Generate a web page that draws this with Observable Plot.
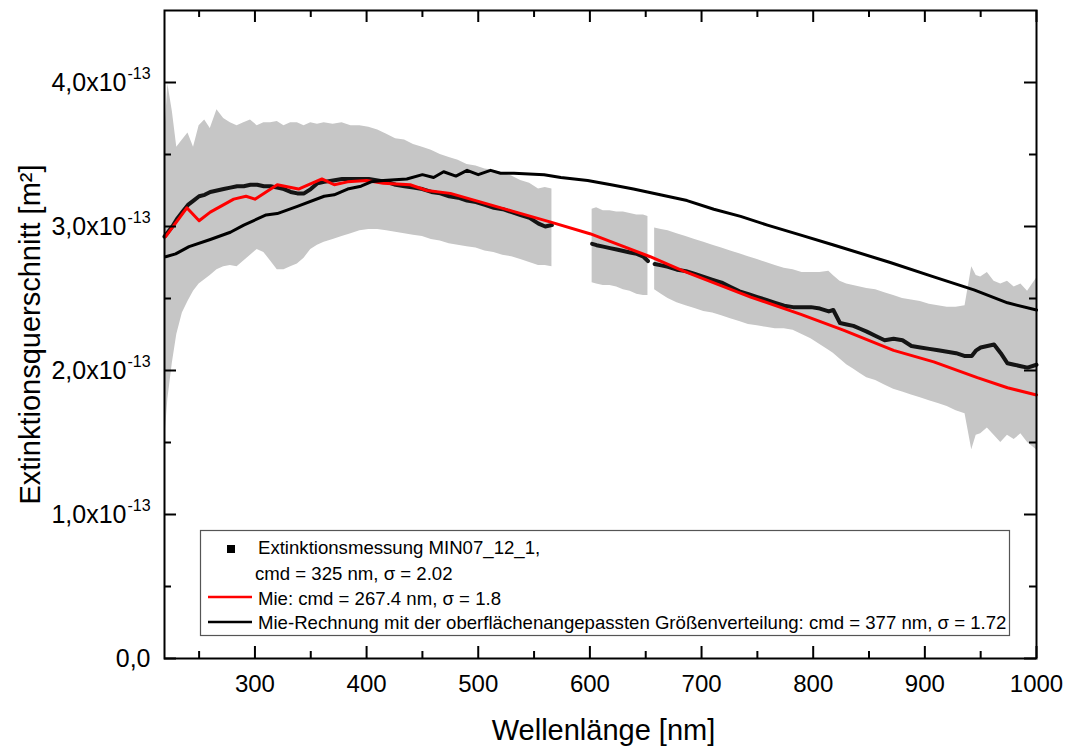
<!DOCTYPE html>
<html>
<head>
<meta charset="utf-8">
<script src="https://cdn.jsdelivr.net/npm/d3@7"></script>
<script src="https://cdn.jsdelivr.net/npm/@observablehq/plot@0.6"></script>
<style>
  html, body { margin: 0; padding: 0; background: #fff; }
  #chart svg { font-family: "Liberation Sans", Arial, sans-serif; display: block; }
</style>
</head>
<body>
<div id="chart"></div>
<script>
// ---- Data (y values in units of 1e-13 m²) ----
const xTitle = "Wellenlänge [nm]";
const yTitle = "Extinktionsquerschnitt [m²]";
const xMajorTicks = [300, 400, 500, 600, 700, 800, 900, 1000];
const xMinorTicks = [250, 350, 450, 550, 650, 750, 850, 950];
const yMajorTicks = [0, 1, 2, 3, 4];
const yMinorTicks = [0.5, 1.5, 2.5, 3.5];
const yTickLabels = ["0,0", "1,0x10", "2,0x10", "3,0x10", "4,0x10"];
const yTickExponents = ["", "-13", "-13", "-13", "-13"];

// Measurement, segment 1
const seg1Wl  = [219,222,226,230,235,240,245,250,255,260,266,272,278,284,290,296,302,308,314,320,326,332,338,344,350,356,362,370,378,386,394,402,410,418,426,434,442,450,458,466,474,482,490,498,506,514,522,530,538,546,554,560,566];
const seg1Val = [2.93,2.96,3.00,3.05,3.10,3.15,3.18,3.21,3.22,3.24,3.25,3.26,3.27,3.28,3.28,3.29,3.29,3.28,3.28,3.27,3.26,3.24,3.23,3.23,3.26,3.30,3.31,3.32,3.33,3.33,3.33,3.33,3.32,3.31,3.29,3.28,3.27,3.26,3.24,3.23,3.21,3.20,3.18,3.17,3.15,3.13,3.12,3.10,3.08,3.06,3.02,3.00,3.01];
const seg1Hi  = [3.60,3.99,3.80,3.55,3.60,3.65,3.55,3.70,3.74,3.68,3.81,3.75,3.72,3.70,3.72,3.74,3.70,3.72,3.72,3.73,3.70,3.72,3.72,3.70,3.72,3.71,3.72,3.71,3.72,3.70,3.70,3.69,3.67,3.64,3.61,3.60,3.57,3.55,3.53,3.50,3.48,3.46,3.43,3.42,3.40,3.39,3.37,3.35,3.32,3.30,3.26,3.27,3.26];
const seg1Lo  = [1.50,1.80,2.05,2.25,2.40,2.48,2.55,2.60,2.63,2.66,2.70,2.72,2.73,2.72,2.76,2.80,2.84,2.82,2.76,2.70,2.70,2.72,2.74,2.78,2.84,2.87,2.89,2.91,2.93,2.95,2.97,2.98,2.98,2.97,2.96,2.95,2.94,2.93,2.91,2.90,2.88,2.87,2.86,2.85,2.83,2.82,2.80,2.79,2.77,2.75,2.73,2.73,2.72];

// Measurement, segment 2
const seg2Wl  = [602,606,612,618,624,630,636,642,648,652];
const seg2Val = [2.88,2.87,2.86,2.85,2.84,2.83,2.82,2.81,2.79,2.76];
const seg2Hi  = [3.12,3.13,3.11,3.11,3.10,3.10,3.09,3.08,3.08,3.07];
const seg2Lo  = [2.61,2.60,2.59,2.59,2.58,2.56,2.55,2.53,2.52,2.52];

// Measurement, segment 3
const seg3Wl  = [658,664,670,678,686,694,702,710,718,726,734,742,750,758,766,774,782,790,798,806,814,818,824,830,836,842,848,856,864,872,880,888,896,904,912,920,928,936,942,946,950,956,962,968,974,980,986,992,1000];
const seg3Val = [2.74,2.73,2.72,2.70,2.69,2.67,2.65,2.63,2.61,2.58,2.55,2.53,2.51,2.49,2.47,2.45,2.44,2.44,2.44,2.43,2.41,2.42,2.33,2.32,2.31,2.29,2.27,2.24,2.21,2.22,2.21,2.17,2.16,2.15,2.14,2.13,2.12,2.10,2.10,2.14,2.16,2.17,2.18,2.12,2.05,2.04,2.03,2.02,2.04];
const seg3Hi  = [2.99,2.98,2.97,2.95,2.93,2.91,2.89,2.87,2.85,2.83,2.81,2.79,2.77,2.75,2.73,2.71,2.70,2.68,2.68,2.68,2.69,2.66,2.62,2.60,2.59,2.58,2.57,2.56,2.54,2.52,2.50,2.49,2.48,2.46,2.45,2.44,2.44,2.45,2.72,2.66,2.65,2.68,2.62,2.60,2.62,2.58,2.60,2.55,2.64];
const seg3Lo  = [2.56,2.53,2.50,2.47,2.45,2.43,2.41,2.40,2.38,2.36,2.34,2.32,2.31,2.30,2.29,2.29,2.28,2.25,2.22,2.18,2.14,2.12,2.08,2.04,2.01,1.98,1.95,1.93,1.90,1.87,1.85,1.83,1.81,1.79,1.77,1.75,1.72,1.70,1.45,1.55,1.56,1.60,1.55,1.50,1.55,1.52,1.56,1.50,1.45];

// Mie: cmd = 267.4 nm, sigma = 1.8 (red)
const mieRedWl  = [220,239,250,260,281,292,300,320,339,360,371,383,400,415,439,454,475,493,511,529,547,565,600,624,654,684,714,744,789,827,872,908,947,974,1000];
const mieRedVal = [2.93,3.13,3.04,3.10,3.19,3.21,3.19,3.29,3.26,3.33,3.29,3.31,3.32,3.30,3.29,3.25,3.23,3.19,3.15,3.11,3.07,3.03,2.95,2.88,2.79,2.69,2.60,2.51,2.39,2.28,2.14,2.06,1.95,1.88,1.83];

// Mie-Rechnung, surface-fitted distribution (black)
const mieBlackWl  = [220,229,241,260,278,290,310,320,338,362,371,383,395,404,415,436,450,460,469,480,490,500,511,520,532,559,574,598,619,639,663,687,711,735,759,789,819,869,908,944,974,1000];
const mieBlackVal = [2.79,2.81,2.86,2.91,2.96,3.01,3.08,3.09,3.14,3.21,3.22,3.26,3.28,3.31,3.32,3.33,3.36,3.34,3.38,3.35,3.39,3.36,3.39,3.37,3.37,3.36,3.34,3.32,3.29,3.26,3.22,3.18,3.12,3.07,3.01,2.94,2.87,2.75,2.65,2.56,2.47,2.42];

const legendLabels = [
  "Extinktionsmessung MIN07_12_1,",
  "cmd = 325 nm, σ = 2.02",
  "Mie: cmd = 267.4 nm, σ = 1.8",
  "Mie-Rechnung mit der oberflächenangepassten Größenverteilung: cmd = 377 nm, σ = 1.72"
];

// ---- Build tables ----
function seg(id, wl, val, lo, hi) {
  return wl.map((w, i) => ({seg: id, wl: w, val: val[i], lo: lo[i], hi: hi[i]}));
}
const meas = [
  ...seg(1, seg1Wl, seg1Val, seg1Lo, seg1Hi),
  ...seg(2, seg2Wl, seg2Val, seg2Lo, seg2Hi),
  ...seg(3, seg3Wl, seg3Val, seg3Lo, seg3Hi)
];
const mieRed = mieRedWl.map((w, i) => ({wl: w, val: mieRedVal[i]}));
const mieBlack = mieBlackWl.map((w, i) => ({wl: w, val: mieBlackVal[i]}));
const yLab = yMajorTicks.map((t, i) => ({t, label: yTickLabels[i], exp: yTickExponents[i]}));
const yLabExp = yLab.filter(d => d.exp);
const yLabZero = yLab.filter(d => !d.exp);

const W = 1068, H = 747;
const mL = 164, mR = 32, mT = 10, mB = 89;
const innerW = W - mL - mR, innerH = H - mT - mB;
const majorLen = 12, minorLen = 7;
const font = "Liberation Sans, Arial, sans-serif";

const plot = Plot.plot({
  width: W, height: H,
  marginLeft: mL, marginRight: mR, marginTop: mT, marginBottom: mB,
  style: {fontFamily: font, background: "#fff", overflow: "visible"},
  x: {domain: [219, 1000], axis: null},
  y: {domain: [0, 4.5], axis: null},
  marks: [
    Plot.areaY(meas, {x: "wl", y1: "lo", y2: "hi", z: "seg", fill: "#c6c6c6"}),
    Plot.lineY(meas, {x: "wl", y: "val", z: "seg", stroke: "#000", strokeWidth: 4, strokeOpacity: 0.9}),
    Plot.lineY(mieRed, {x: "wl", y: "val", stroke: "#ff0000", strokeWidth: 3}),
    Plot.lineY(mieBlack, {x: "wl", y: "val", stroke: "#000", strokeWidth: 3}),
    // ticks (inward), bottom & top
    Plot.tickX(xMajorTicks, {x: d => d, insetTop: innerH - majorLen, stroke: "#000", strokeWidth: 2}),
    Plot.tickX(xMinorTicks, {x: d => d, insetTop: innerH - minorLen, stroke: "#000", strokeWidth: 2}),
    Plot.tickX(xMajorTicks, {x: d => d, insetBottom: innerH - majorLen, stroke: "#000", strokeWidth: 2}),
    Plot.tickX(xMinorTicks, {x: d => d, insetBottom: innerH - minorLen, stroke: "#000", strokeWidth: 2}),
    // ticks (inward), left & right
    Plot.tickY(yMajorTicks, {y: d => d, insetRight: innerW - majorLen, stroke: "#000", strokeWidth: 2}),
    Plot.tickY(yMinorTicks, {y: d => d, insetRight: innerW - minorLen, stroke: "#000", strokeWidth: 2}),
    Plot.tickY(yMajorTicks, {y: d => d, insetLeft: innerW - majorLen, stroke: "#000", strokeWidth: 2}),
    Plot.tickY(yMinorTicks, {y: d => d, insetLeft: innerW - minorLen, stroke: "#000", strokeWidth: 2}),
    Plot.frame({stroke: "#000", strokeWidth: 2}),
    // tick labels
    Plot.text(xMajorTicks, {x: d => d, text: d => String(d), frameAnchor: "bottom", dy: 26, fontSize: 24, fill: "#000", lineAnchor: "middle"}),
    Plot.text(yLabExp, {y: "t", text: "label", frameAnchor: "left", textAnchor: "end", dx: -38, fontSize: 25, fill: "#000", lineAnchor: "middle"}),
    Plot.text(yLabZero, {y: "t", text: "label", frameAnchor: "left", textAnchor: "end", dx: -14, fontSize: 25, fill: "#000", lineAnchor: "middle"}),
    Plot.text(yLabExp, {y: "t", text: "exp", frameAnchor: "left", textAnchor: "start", dx: -37, dy: -9, fontSize: 16, fill: "#000", lineAnchor: "middle"}),
    // axis titles
    Plot.text([xTitle], {frameAnchor: "bottom", textAnchor: "middle", dx: 3, dy: 72, fontSize: 29, fill: "#000", lineAnchor: "middle"}),
    Plot.text([yTitle], {frameAnchor: "left", textAnchor: "middle", dx: -134, rotate: -90, fontSize: 29, fill: "#000", lineAnchor: "middle"})
  ]
});

document.getElementById("chart").appendChild(plot);

// ---- Legend (inside plot frame, bottom) ----
const svg = d3.select(plot);
const lg = svg.append("g").attr("font-family", font).attr("font-size", 18.6).attr("fill", "#000").attr("text-anchor", "start");
lg.append("rect").attr("x", 200.5).attr("y", 530.5).attr("width", 809).attr("height", 105)
  .attr("fill", "#fff").attr("stroke", "#555").attr("stroke-width", 1.2);
lg.append("rect").attr("x", 227).attr("y", 545).attr("width", 8).attr("height", 8).attr("fill", "#000");
lg.append("text").attr("x", 258).attr("y", 554).attr("text-anchor", "start").text(legendLabels[0]);
lg.append("text").attr("x", 255).attr("y", 580).attr("text-anchor", "start").text(legendLabels[1]);
lg.append("line").attr("x1", 208).attr("x2", 252).attr("y1", 597).attr("y2", 597).attr("stroke", "#ff0000").attr("stroke-width", 2.5);
lg.append("text").attr("x", 258).attr("y", 605).attr("text-anchor", "start").text(legendLabels[2]);
lg.append("line").attr("x1", 208).attr("x2", 252).attr("y1", 622).attr("y2", 622).attr("stroke", "#000").attr("stroke-width", 2.5);
lg.append("text").attr("x", 258).attr("y", 629).attr("text-anchor", "start").text(legendLabels[3]);
</script>
</body>
</html>
